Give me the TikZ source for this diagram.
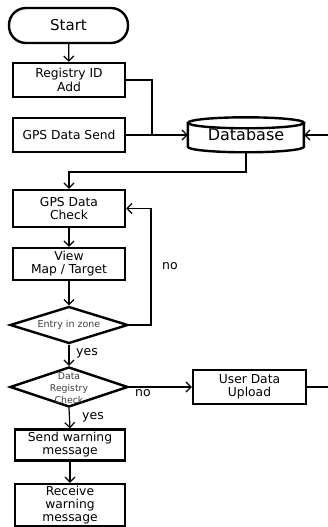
\documentclass[tikz,border=0pt]{standalone}
\usepackage{fontspec}
\setmainfont{DejaVu Sans}
\usetikzlibrary{shapes.geometric,arrows.meta,calc}

\tikzset{
  box/.style={draw, line width=2.4pt, fill=white, minimum width=112pt, align=center,
              inner sep=0pt, font=\fontsize{12.3}{13.2}\selectfont},
  term/.style={box, rounded corners=17pt, minimum width=119pt, minimum height=35pt,
               font=\fontsize{15}{17}\selectfont},
  dia/.style={draw, line width=2.4pt, diamond, inner sep=0pt},
  smalltxt/.style={align=center, text=black!75, inner sep=0pt},
  conn/.style={line width=1.2pt},
  arr/.style={conn, -{Straight Barb[length=5pt,width=10pt,line width=1.2pt]}},
  lbl/.style={font=\fontsize{12.5}{14}\selectfont, inner sep=0pt}
}

\begin{document}
\begin{tikzpicture}[x=1pt, y=-1pt]
  \useasboundingbox (0,0) rectangle (328,527);

  % main column
  \node[term] (start) at (68.5,25.5) {Start};
  \node[box, minimum height=34pt] (reg)  at (69,80)  {Registry ID\\Add};
  \node[box, minimum height=34pt] (gps)  at (69,135) {GPS Data Send};
  \node[box, minimum height=37pt] (chk)  at (69,208.5) {GPS Data\\Check};
  \node[box, minimum height=32pt] (view) at (69,264) {View\\Map / Target};

  % database cylinder drawn around a plain text node
  \node[font=\fontsize{16}{18}\selectfont, minimum width=116pt, minimum height=35pt,
        inner sep=0pt] (db) at (246,135) {Database};
  \draw[line width=2.4pt]
    (db.north west) ++(0,5.5) -- ++(0,24)
    arc[start angle=180, end angle=360, x radius=58pt, y radius=5.5pt]
    -- ++(0,-24);
  \draw[line width=2.4pt] ($(db.north)+(0,5.5)$) ellipse[x radius=58pt, y radius=5.5pt];

  % decisions
  \node[dia, minimum width=118pt, minimum height=37pt] (zone) at (69,325) {};
  \node[smalltxt, font=\fontsize{9.5}{11}\selectfont] (zonetxt) at (zone) {Entry in zone};
  \node[dia, minimum width=118pt, minimum height=40pt] (drc) at (69,387) {};
  \node[smalltxt, font=\fontsize{9.3}{12}\selectfont] (drctxt) at (69,388) {Data\\Registry\\Check};

  \node[box, minimum width=113pt, minimum height=34pt] (upl) at (249.5,387) {User Data\\Upload};
  \node[box, minimum width=110pt, minimum height=31pt] (send) at (70,445) {Send warning\\message};
  \node[box, minimum width=110pt, minimum height=42pt] (recv) at (70,505) {Receive\\warning\\message};

  % connectors
  \coordinate (jn) at (152,135);
  \coordinate (bend) at (69,172);
  \coordinate (loop) at (151,208.5);
  \coordinate (rt) at (345,135);

  \draw[arr] (start) -- (reg);
  \draw[conn] (reg.east) -| (jn);
  \draw[arr] (gps.east) -- (db.west);
  \draw[arr] (db.south) |- (bend) -- (chk.north);
  \draw[arr] (upl.east) -| (rt) -- (db.east);
  \draw[arr] (chk) -- (view);
  \draw[arr] (view) -- (zone.north);
  \draw[arr] (zone.east) -| (loop) -- (chk.east);
  \node[lbl] (nolbl1) at (170,266) {no};
  \draw[arr] (zone.south) -- (drc.north);
  \node[lbl] (yeslbl1) at (87,353) {yes};
  \draw[arr] (drc.east) -- (upl.west);
  \node[lbl] (nolbl2) at (143,393) {no};
  \draw[arr] (drc.south) -- (send.north);
  \node[lbl] (yeslbl2) at (93,417) {yes};
  \draw[arr] (send) -- (recv);
\end{tikzpicture}
\end{document}
